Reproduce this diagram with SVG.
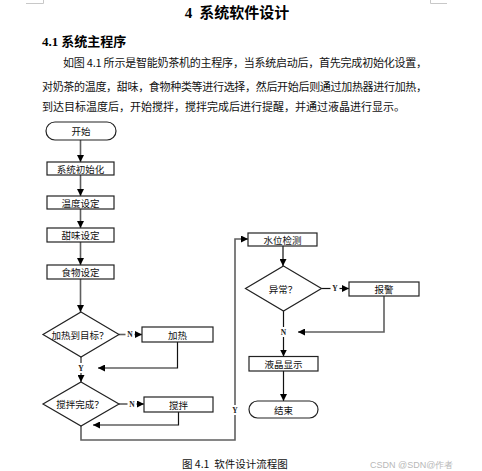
<svg xmlns="http://www.w3.org/2000/svg" width="482" height="471" viewBox="0 0 482 471">
<style>
.cjk{font-family:"Noto Sans CJK SC","Noto Sans",sans-serif;fill:#111}
.title{font-family:"Noto Sans CJK SC",sans-serif;font-weight:bold;fill:#000}
.node rect,.node polygon{fill:#fff;stroke:#222;stroke-width:1.2}
.lbl{font-family:"Noto Sans CJK SC",sans-serif;font-size:9.5px;fill:#111;text-anchor:middle;dominant-baseline:central}
.yn{font-family:"Liberation Serif",serif;font-size:7.5px;font-weight:bold;fill:#222;text-anchor:middle;dominant-baseline:central}
.c{fill:none;stroke:#5f5f5f;stroke-width:1.6}
.k{fill:none;stroke:#111;stroke-width:1.2}
.mark{stroke:#c8c8c8;stroke-width:1;fill:none}
</style>
<defs>
<marker id="ah" viewBox="0 0 10 10" refX="10" refY="5" markerWidth="7" markerHeight="7" markerUnits="userSpaceOnUse" orient="auto">
<path d="M0,0 L10,5 L0,10 z" fill="#000"/>
</marker>
</defs>
<rect width="482" height="471" fill="#fff"/>
<path class="mark" d="M26,3.5 H43.5 V0 M447,3.5 H430.5 V0"/>
<text class="title" x="237" y="18" font-size="15" text-anchor="middle"><tspan font-family="Liberation Serif,serif">4</tspan>&#160;&#160;系统软件设计</text>
<text class="title" x="42" y="46" font-size="13"><tspan font-family="Liberation Serif,serif">4.1</tspan>&#160;系统主程序</text>
<text class="cjk" x="63" y="67" font-size="11" textLength="364" lengthAdjust="spacing">如图 4.1 所示是智能奶茶机的主程序，当系统启动后，首先完成初始化设置，</text>
<text class="cjk" x="42" y="91" font-size="11" textLength="385" lengthAdjust="spacing">对奶茶的温度，甜味，食物种类等进行选择，然后开始后则通过加热器进行加热，</text>
<text class="cjk" x="42" y="111" font-size="11" textLength="363" lengthAdjust="spacing">到达目标温度后，开始搅拌，搅拌完成后进行提醒，并通过液晶进行显示。</text>

<g id="connectors">
<path class="c" d="M80.5,140 V162" marker-end="url(#ah)"/>
<path class="c" d="M80.5,175 V196" marker-end="url(#ah)"/>
<path class="c" d="M80.5,209 V228" marker-end="url(#ah)"/>
<path class="c" d="M80.5,242 V265" marker-end="url(#ah)"/>
<path class="c" d="M80.5,279 V312" marker-end="url(#ah)"/>
<path class="c" d="M119,334.5 H142" marker-end="url(#ah)"/>
<path class="k" d="M177.5,342 V368 H98" marker-end="url(#ah)"/>
<path class="c" d="M81,357 V382" marker-end="url(#ah)"/>
<path class="c" d="M119,404 H144" marker-end="url(#ah)"/>
<path class="k" d="M178.5,412 V425 H93" marker-end="url(#ah)"/>
<path class="c" d="M81,426 V440 H235 V239 H248" marker-end="url(#ah)"/>
<path class="k" d="M283,246 V266" marker-end="url(#ah)"/>
<path class="k" d="M321.5,288.5 H349" marker-end="url(#ah)"/>
<path class="c" d="M384,296 V332 H298" marker-end="url(#ah)"/>
<path class="k" d="M283.5,311 V356.5" marker-end="url(#ah)"/>
<path class="k" d="M283.5,371 V401" marker-end="url(#ah)"/>
<rect x="125.5" y="330" width="9" height="9" fill="#fff"/>
<text class="yn" x="130" y="334.5">N</text>
<rect x="76.5" y="363" width="9" height="10" fill="#fff"/>
<text class="yn" x="81" y="368">Y</text>
<rect x="127.5" y="399.5" width="9" height="9" fill="#fff"/>
<text class="yn" x="132" y="404">N</text>
<rect x="231" y="405" width="8" height="10" fill="#fff"/>
<text class="yn" x="235" y="410">Y</text>
<rect x="330.5" y="284" width="9" height="9" fill="#fff"/>
<text class="yn" x="335" y="288.5">Y</text>
<rect x="279" y="327" width="9" height="10" fill="#fff"/>
<text class="yn" x="283.5" y="332">N</text>
</g>

<g id="start" class="node"><rect x="46" y="122" width="70" height="18" rx="9"/><text class="lbl" x="81" y="131">开始</text></g>
<g id="init" class="node"><rect x="47" y="162" width="67" height="13"/><text class="lbl" x="80.5" y="168.5">系统初始化</text></g>
<g id="temp" class="node"><rect x="47" y="196" width="67" height="13"/><text class="lbl" x="80.5" y="202.5">温度设定</text></g>
<g id="sweet" class="node"><rect x="47" y="228" width="67" height="14"/><text class="lbl" x="80.5" y="235">甜味设定</text></g>
<g id="food" class="node"><rect x="47" y="265" width="67" height="14"/><text class="lbl" x="80.5" y="272">食物设定</text></g>
<g id="heatq" class="node"><polygon points="81,312 119,334.5 81,357 43,334.5"/><text class="lbl" x="80" y="334.5">加热到目标？</text></g>
<g id="heat" class="node"><rect x="142" y="327" width="71" height="15"/><text class="lbl" x="177.5" y="334.5">加热</text></g>
<g id="stirq" class="node"><polygon points="81,382 119,404 81,426 43,404"/><text class="lbl" x="80" y="404">搅拌完成？</text></g>
<g id="stir" class="node"><rect x="144" y="397" width="69" height="15"/><text class="lbl" x="178.5" y="404.5">搅拌</text></g>
<g id="water" class="node"><rect x="248" y="233" width="69" height="13"/><text class="lbl" x="282.5" y="239.5">水位检测</text></g>
<g id="abn" class="node"><polygon points="283.5,266 321.5,288.5 283.5,311 245.5,288.5"/><text class="lbl" x="283" y="288.5">异常？</text></g>
<g id="alarm" class="node"><rect x="349" y="282" width="70" height="14"/><text class="lbl" x="384" y="289">报警</text></g>
<g id="lcd" class="node"><rect x="249" y="356.5" width="69" height="14.5"/><text class="lbl" x="283.5" y="363.8">液晶显示</text></g>
<g id="end" class="node"><rect x="249" y="401" width="69" height="17" rx="8.5"/><text class="lbl" x="283.5" y="409.5">结束</text></g>

<text class="cjk" x="182" y="468" font-size="10.5">图 4.1&#160;&#160;软件设计流程图</text>
<text x="370" y="468" font-family="Liberation Sans,sans-serif" font-size="9" fill="#b8b8b8">CSDN @SDN@作者</text>
</svg>
